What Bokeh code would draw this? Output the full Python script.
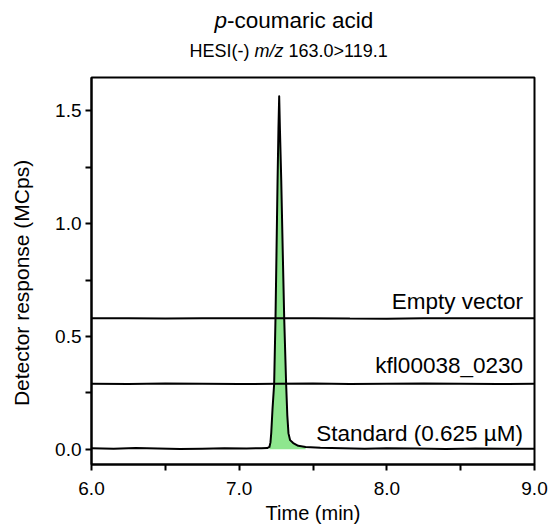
import math
from bokeh.plotting import figure
from bokeh.models import FixedTicker, Label
from bokeh.layouts import column, row
from bokeh.embed import file_html
from bokeh.resources import INLINE

# ---------------- data ----------------
std_time = [6.00, 6.15, 6.30, 6.45, 6.60, 6.75, 6.90, 7.05, 7.15, 7.19,
            7.205, 7.212, 7.217, 7.226, 7.237, 7.246, 7.253, 7.260, 7.266, 7.271,
            7.276, 7.285, 7.295, 7.305, 7.318, 7.326, 7.334, 7.345, 7.366, 7.40,
            7.45, 7.55, 7.70, 7.85, 8.00, 8.20, 8.40, 8.60, 8.80, 9.00]
std_resp = [0.004, 0.002, 0.005, 0.003, 0.001, 0.002, 0.004, 0.003, 0.004, 0.005,
            0.010, 0.030, 0.070, 0.180, 0.290, 0.580, 0.880, 1.190, 1.420, 1.565,
            1.420, 1.190, 0.880, 0.580, 0.290, 0.150, 0.070, 0.040, 0.027, 0.015,
            0.010, 0.006, 0.004, 0.002, 0.004, 0.003, 0.001, 0.003, 0.002, 0.002]

kfl_time = [6.00, 6.25, 6.50, 6.75, 7.00, 7.25, 7.50, 7.75, 8.00, 8.25, 8.50, 8.75, 9.00]
kfl_resp = [0.290, 0.289, 0.291, 0.290, 0.289, 0.290, 0.291, 0.289, 0.290, 0.291, 0.290, 0.289, 0.290]

ev_time = [6.00, 6.25, 6.50, 6.75, 7.00, 7.25, 7.50, 7.75, 8.00, 8.25, 8.50, 8.75, 9.00]
ev_resp = [0.580, 0.581, 0.579, 0.580, 0.581, 0.580, 0.581, 0.579, 0.578, 0.580, 0.581, 0.580, 0.580]

x_ticks = [6.0, 6.5, 7.0, 7.5, 8.0, 8.5, 9.0]
x_tick_labels = ["6.0", "", "7.0", "", "8.0", "", "9.0"]
y_ticks = [0.0, 0.25, 0.5, 0.75, 1.0, 1.25, 1.5]
y_tick_labels = ["0.0", "", "0.5", "", "1.0", "", "1.5"]

series_labels = ["Empty vector", "kfl00038_0230", "Standard (0.625 \u00b5M)"]

FONT = "Liberation Sans"

# ---------------- layout geometry (page pixels) ----------------
PW, PH = 551, 529
HEAD_H = 75          # header strip with the titles
LEFT_W = 40          # strip with the y-axis title
X0, X1 = 6.0, 9.0
Y0, Y1 = -0.068, 1.648
FL, FT, FR, FB = 91, 77, 534, 464   # frame edges on the page
BL = 7               # rendered baseline sits this much below the anchor

W = PW - LEFT_W
H = PH - HEAD_H
ML = FL - LEFT_W
MT = FT - HEAD_H
MR = PW - FR
MB = PH - FB


def blank(width, height, xr, yr):
    f = figure(width=width, height=height, x_range=xr, y_range=yr,
               output_backend="svg", toolbar_location=None, title=None,
               x_axis_location=None, y_axis_location=None,
               min_border=0, min_border_left=0, min_border_right=0,
               min_border_top=0, min_border_bottom=0)
    f.grid.visible = False
    f.outline_line_color = None
    f.background_fill_color = "white"
    f.border_fill_color = "white"
    return f


def lab(fig, text, x, y, size, align="left", baseline="alphabetic",
        style="normal", angle=0.0):
    fig.add_layout(Label(x=x, y=y, text=text, text_font=FONT,
                         text_font_size=size, text_align=align,
                         text_baseline=baseline, text_font_style=style,
                         text_color="black", angle=angle))


# ---------------- header (titles) ----------------
head = blank(PW, HEAD_H, (0, PW), (HEAD_H, 0))
TS = 22.5
lab(head, "p", 214.0, 26.5 - BL, f"{TS}px", style="italic")
lab(head, "-coumaric acid", 214.0 + 0.556 * TS, 26.5 - BL, f"{TS}px")
sx = 189.0
lab(head, "HESI(-)", sx, 57.0 - BL, "18px")
sx += 3.333 * 18 + 0.278 * 18
lab(head, "m/z", sx, 57.0 - BL, "18px", style="italic")
sx += 1.611 * 18 + 0.278 * 18
lab(head, "163.0>119.1", sx, 57.0 - BL, "18px")

# ---------------- left strip (y title) ----------------
left = blank(LEFT_W, H, (0, LEFT_W), (PH, HEAD_H))
lab(left, "Detector response (MCps)", 21.0, 316.0, "21px",
    align="center", angle=math.pi / 2)

# ---------------- main plot ----------------
p = figure(width=W, height=H, x_range=(X0, X1), y_range=(Y0, Y1),
           output_backend="svg", toolbar_location=None, title=None,
           min_border_left=ML, min_border_right=MR, min_border_top=MT,
           min_border_bottom=MB)
p.grid.visible = False
p.outline_line_color = "black"
p.outline_line_width = 2
p.background_fill_color = "white"
p.border_fill_color = "white"

for ax in (p.xaxis[0], p.yaxis[0]):
    ax.axis_line_color = "black"
    ax.axis_line_width = 2
    ax.major_tick_line_color = "black"
    ax.major_tick_line_width = 2
    ax.major_tick_out = 6
    ax.major_tick_in = 0
    ax.minor_tick_line_color = None
    ax.major_label_text_font = FONT
    ax.major_label_text_font_size = "19px"
    ax.major_label_text_color = "black"

p.xaxis.ticker = FixedTicker(ticks=x_ticks)
p.xaxis.major_label_overrides = {t: l for t, l in zip(x_ticks, x_tick_labels)}
p.xaxis.major_label_standoff = 11
p.xaxis.axis_label = "Time (min)"
p.xaxis.axis_label_text_font = FONT
p.xaxis.axis_label_text_font_size = "20px"
p.xaxis.axis_label_text_font_style = "normal"
p.xaxis.axis_label_text_color = "black"
p.xaxis.axis_label_standoff = 4

p.yaxis.ticker = FixedTicker(ticks=y_ticks)
p.yaxis.major_label_overrides = {t: l for t, l in zip(y_ticks, y_tick_labels)}
p.yaxis.major_label_standoff = 4

fill_t = [t for t in std_time if 7.2 <= t <= 7.45]
fill_v = [v for t, v in zip(std_time, std_resp) if 7.2 <= t <= 7.45]
p.varea(x=fill_t, y1=[0.0] * len(fill_t), y2=fill_v, fill_color="#8EE68E")
p.line(std_time, std_resp, line_color="black", line_width=2, line_join="round")
p.line(kfl_time, kfl_resp, line_color="black", line_width=2)
p.line(ev_time, ev_resp, line_color="black", line_width=2)


def dx(px):
    return X0 + (px - FL) / (FR - FL) * (X1 - X0)


def dy(py):
    return Y1 - (py - FT) / (FB - FT) * (Y1 - Y0)


lab(p, series_labels[0], dx(522.5), dy(307.5 - BL), "22.5px", align="right")
lab(p, series_labels[1], dx(522.5), dy(371.5 - BL), "22.5px", align="right")
lab(p, series_labels[2], dx(522.5), dy(440.0 - BL), "22.5px", align="right")

layout = column(head, row(left, p, spacing=0), spacing=0)
open("out.html", "w").write(file_html(layout, INLINE))
